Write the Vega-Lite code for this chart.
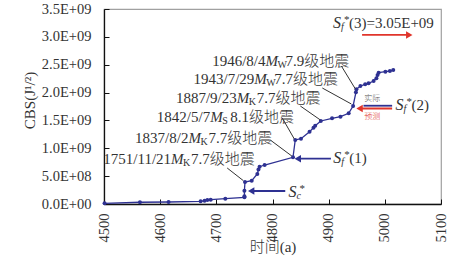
{
  "$schema": "https://vega.github.io/schema/vega-lite/v6.json",
  "width": 337,
  "height": 195,
  "autosize": {"type": "none"},
  "padding": {"left": 104, "top": 9, "right": 16, "bottom": 64},
  "background": "white",
  "config": {
    "font": "Liberation Serif, Noto Sans CJK SC",
    "view": {"stroke": "#a0a0a0", "strokeWidth": 1.2},
    "axis": {
      "grid": false,
      "domainColor": "#111",
      "domainWidth": 1.3,
      "tickColor": "#111",
      "tickSize": -5,
      "tickWidth": 1,
      "labelColor": "#333",
      "titleColor": "#333",
      "labelFontSize": 14.5,
      "titleFontSize": 15,
      "titleFontWeight": 300,
      "labelFont": "Liberation Serif, Noto Sans CJK SC",
      "titleFont": "Liberation Serif, Noto Sans CJK SC"
    }
  },
  "datasets": {
    "series": [
      {"x": 4501, "y": 13000000},
      {"x": 4564, "y": 31000000},
      {"x": 4615, "y": 36000000},
      {"x": 4672, "y": 48000000},
      {"x": 4679, "y": 59000000},
      {"x": 4684, "y": 72000000},
      {"x": 4690, "y": 77000000},
      {"x": 4716, "y": 95000000},
      {"x": 4750, "y": 120000000},
      {"x": 4750, "y": 140000000},
      {"x": 4750, "y": 240000000},
      {"x": 4751, "y": 395000000},
      {"x": 4763, "y": 418000000},
      {"x": 4773, "y": 540000000},
      {"x": 4775, "y": 620000000},
      {"x": 4777, "y": 670000000},
      {"x": 4786, "y": 700000000},
      {"x": 4836.5, "y": 838000000},
      {"x": 4840.5, "y": 1149000000},
      {"x": 4850.7, "y": 1172000000},
      {"x": 4866, "y": 1298000000},
      {"x": 4873, "y": 1370000000},
      {"x": 4876, "y": 1405000000},
      {"x": 4886, "y": 1490000000},
      {"x": 4906, "y": 1538000000},
      {"x": 4921, "y": 1567000000},
      {"x": 4935.6, "y": 1628000000},
      {"x": 4943.5, "y": 1759000000},
      {"x": 4948.5, "y": 2005000000},
      {"x": 4949.4, "y": 2059000000},
      {"x": 4956.5, "y": 2118000000},
      {"x": 4965, "y": 2149000000},
      {"x": 4971, "y": 2167000000},
      {"x": 4980, "y": 2208000000},
      {"x": 4985, "y": 2256000000},
      {"x": 4987, "y": 2316000000},
      {"x": 4989, "y": 2357000000},
      {"x": 5001, "y": 2375000000},
      {"x": 5009, "y": 2387000000},
      {"x": 5015, "y": 2405000000}
    ],
    "quakes": [
      {"x": 4619.5, "y": 808000000, "date": "1751/11/21", "sub": "K", "mag": "7.7级地震"},
      {"x": 4650.3, "y": 1179000000, "date": "1837/8/2", "sub": "K", "mag": "7.7级地震"},
      {"x": 4689.0, "y": 1567000000, "date": "1842/5/7", "sub": "S", "mag": "8.1级地震"},
      {"x": 4736.3, "y": 1908000000, "date": "1887/9/23", "sub": "K", "mag": "7.7级地震"},
      {"x": 4767.7, "y": 2244000000, "date": "1943/7/29", "sub": "W", "mag": "7.7级地震"},
      {"x": 4787.6, "y": 2567000000, "date": "1946/8/4", "sub": "W", "mag": "7.9级地震"}
    ],
    "leaders": [
      {"x": 4719.3, "y": 646000000, "x2": 4748, "y2": 420000000},
      {"x": 4796, "y": 1149000000, "x2": 4834.5, "y2": 860000000},
      {"x": 4817.4, "y": 1544000000, "x2": 4838.8, "y2": 1167000000},
      {"x": 4849.5, "y": 1759000000, "x2": 4885.2, "y2": 1508000000},
      {"x": 4888.7, "y": 2082000000, "x2": 4940.4, "y2": 1795000000},
      {"x": 4922.6, "y": 2477000000, "x2": 4947.6, "y2": 2064000000}
    ],
    "arrows": [
      {"x": 4822.7, "x2": 4762, "y": 233000000, "kind": "actual", "dir": "left", "head": true},
      {"x": 4904, "x2": 4845, "y": 813000000, "kind": "actual", "dir": "left", "head": true},
      {"x": 5013, "x2": 4962, "y": 1764000000, "kind": "actual", "dir": "left", "head": false},
      {"x": 5013, "x2": 4955, "y": 1714000000, "kind": "predicted", "dir": "left", "head": true},
      {"x": 4959.5, "x2": 5043.5, "y": 3034000000, "kind": "predicted", "dir": "right", "head": true}
    ],
    "symbols": [
      {"x": 4828.6, "y": 221000000, "sub": "c", "rest": ""},
      {"x": 4908.3, "y": 826000000, "sub": "f", "rest": "(1)"},
      {"x": 5018.9, "y": 1777000000, "sub": "f", "rest": "(2)"},
      {"x": 4907.8, "y": 3244000000, "sub": "f", "rest": "(3)=3.05E+09"}
    ],
    "notes": [
      {"x": 4977.4, "y": 1885000000, "text": "实际", "kind": "actual"},
      {"x": 4977.4, "y": 1567000000, "text": "预测", "kind": "predicted"}
    ]
  },
  "encoding": {
    "x": {
      "field": "x",
      "type": "quantitative",
      "scale": {"domain": [4500, 5100], "nice": false, "zero": false},
      "axis": {
        "title": "时间(a)",
        "values": [4500, 4600, 4700, 4800, 4900, 5000, 5100],
        "format": "d",
        "labelAngle": 270,
        "labelPadding": 14,
        "titleY": 35,
        "titleBaseline": "top"
      }
    },
    "y": {
      "field": "y",
      "type": "quantitative",
      "scale": {"domain": [0, 3500000000], "nice": false, "zero": true},
      "axis": {
        "title": "CBS(J¹/²)",
        "values": [0, 500000000, 1000000000, 1500000000, 2000000000, 2500000000, 3000000000, 3500000000],
        "labelExpr": "replace(upper(format(datum.value, '.1e')), regexp('E[+]([0-9])$'), 'E+0$1')",
        "labelPadding": 18,
        "titleX": -82,
        "titleY": 91,
        "titleBaseline": "top"
      }
    }
  },
  "layer": [
    {
      "data": {"name": "series"},
      "mark": {"type": "line", "color": "#2e3192", "strokeWidth": 1.3}
    },
    {
      "data": {"name": "series"},
      "mark": {"type": "point", "filled": true, "color": "#2e3192", "size": 16, "opacity": 1}
    },
    {
      "data": {"name": "leaders"},
      "mark": {"type": "rule", "color": "#333", "strokeWidth": 1},
      "encoding": {"x2": {"field": "x2"}, "y2": {"field": "y2"}}
    },
    {
      "data": {"name": "arrows"},
      "mark": {"type": "rule", "strokeWidth": 1.8},
      "encoding": {
        "x2": {"field": "x2"},
        "color": {"field": "kind", "type": "nominal", "scale": {"domain": ["actual", "predicted"], "range": ["#2e3192", "#e0352b"]}, "legend": null}
      }
    },
    {
      "data": {"name": "arrows"},
      "transform": [{"filter": "datum.head"}],
      "mark": {"type": "point", "filled": true, "size": 55, "opacity": 1},
      "encoding": {
        "x": {"field": "x2", "type": "quantitative"},
        "color": {"field": "kind", "type": "nominal", "legend": null},
        "shape": {"field": "dir", "type": "nominal", "scale": {"domain": ["left", "right"], "range": ["triangle-left", "triangle-right"]}, "legend": null}
      }
    },
    {
      "data": {"name": "quakes"},
      "mark": {"type": "text", "align": "right", "baseline": "middle", "fontSize": 15, "color": "#333"},
      "encoding": {"text": {"field": "date"}}
    },
    {
      "data": {"name": "quakes"},
      "mark": {"type": "text", "align": "left", "baseline": "middle", "fontSize": 15, "fontStyle": "italic", "color": "#333", "text": "M"}
    },
    {
      "data": {"name": "quakes"},
      "mark": {"type": "text", "align": "left", "baseline": "middle", "fontSize": 10, "dx": 12, "dy": 4, "color": "#333"},
      "encoding": {"text": {"field": "sub"}}
    },
    {
      "data": {"name": "quakes"},
      "mark": {"type": "text", "align": "left", "baseline": "middle", "fontSize": 15, "fontWeight": 300, "dx": 20, "color": "#333"},
      "encoding": {"text": {"field": "mag"}}
    },
    {
      "data": {"name": "symbols"},
      "mark": {"type": "text", "align": "left", "baseline": "middle", "fontSize": 16, "fontStyle": "italic", "color": "#333", "text": "S"}
    },
    {
      "data": {"name": "symbols"},
      "mark": {"type": "text", "align": "left", "baseline": "middle", "fontSize": 10, "fontStyle": "italic", "dx": 8, "dy": 4, "color": "#333"},
      "encoding": {"text": {"field": "sub"}}
    },
    {
      "data": {"name": "symbols"},
      "mark": {"type": "text", "align": "left", "baseline": "middle", "fontSize": 11, "dx": 11, "dy": -3, "color": "#333", "text": "*"}
    },
    {
      "data": {"name": "symbols"},
      "mark": {"type": "text", "align": "left", "baseline": "middle", "fontSize": 15, "dx": 16, "color": "#333"},
      "encoding": {"text": {"field": "rest"}}
    },
    {
      "data": {"name": "notes"},
      "transform": [{"filter": "datum.kind == 'actual'"}],
      "mark": {"type": "text", "align": "center", "baseline": "middle", "fontSize": 8, "fontWeight": 300, "color": "#555"},
      "encoding": {"text": {"field": "text"}}
    },
    {
      "data": {"name": "notes"},
      "transform": [{"filter": "datum.kind == 'predicted'"}],
      "mark": {"type": "text", "align": "center", "baseline": "middle", "fontSize": 8, "fontWeight": 300, "color": "#e0352b"},
      "encoding": {"text": {"field": "text"}}
    }
  ]
}
